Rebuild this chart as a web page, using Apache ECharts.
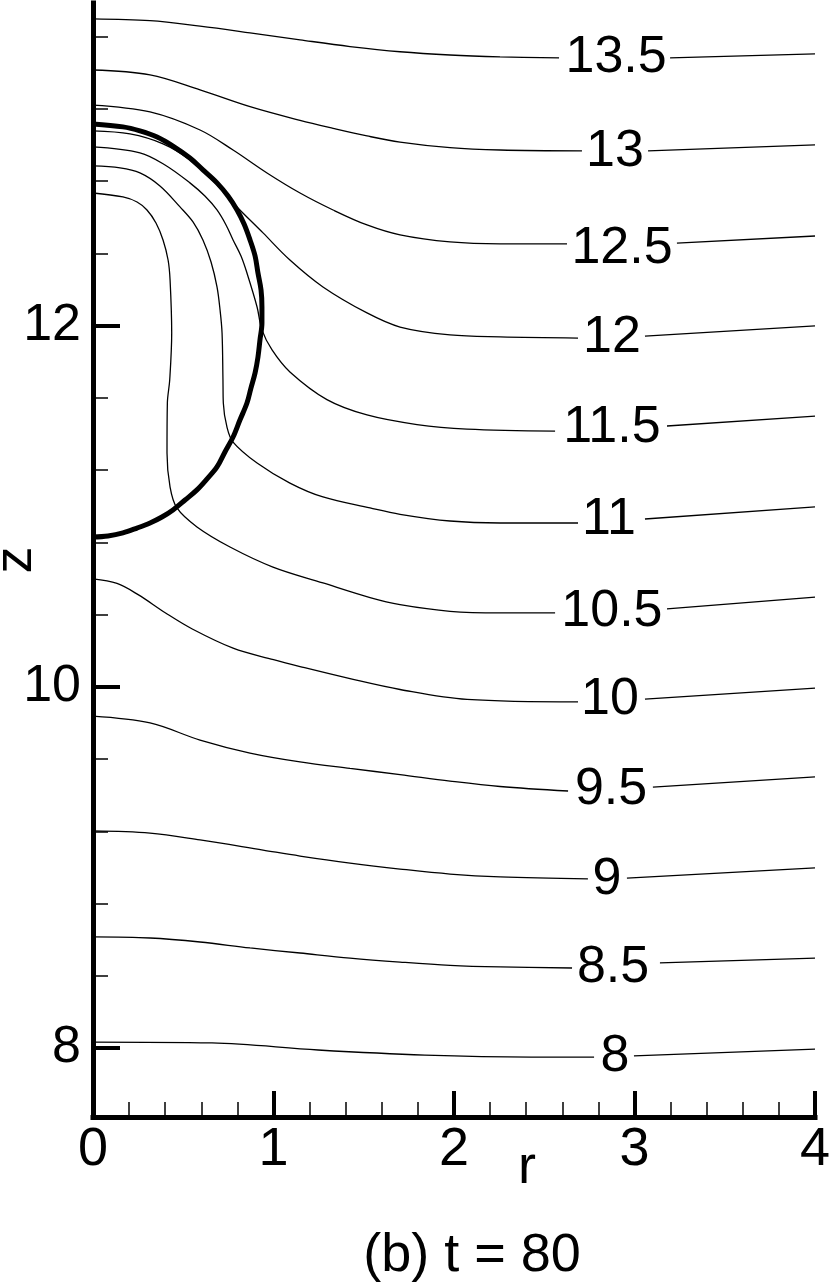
<!DOCTYPE html>
<html>
<head>
<meta charset="utf-8">
<script src="https://cdn.jsdelivr.net/npm/echarts@6/dist/echarts.min.js"></script>
<style>
  html, body { margin: 0; padding: 0; background: #fff; }
  #chart { width: 830px; height: 1282px; }
</style>
</head>
<body>
<div id="chart"></div>
<script>
  // contour levels, top to bottom
  const levels = ['13.5', '13', '12.5', '12', '11.5', '11', '10.5', '10', '9.5', '9', '8.5', '8']

  // [r, z] points of each contour, left of its label
  const leftParts = [
    [[0, 13.698], [0.316, 13.688], [0.593, 13.658], [0.870, 13.621], [1.147, 13.582], [1.424, 13.545], [1.701, 13.516], [1.978, 13.498], [2.255, 13.488], [2.582, 13.482]],
    [[0, 13.415], [0.316, 13.388], [0.593, 13.305], [0.870, 13.212], [1.147, 13.136], [1.330, 13.092], [1.518, 13.050], [1.701, 13.016], [1.978, 12.985], [2.255, 12.972], [2.709, 12.967]],
    [[0, 13.221], [0.316, 13.183], [0.593, 13.083], [0.776, 12.972], [0.964, 12.845], [1.147, 12.734], [1.330, 12.640], [1.518, 12.557], [1.701, 12.502], [1.978, 12.463], [2.255, 12.452], [2.626, 12.452]],
    [[0, 13.078], [0.205, 13.061], [0.388, 13.006], [0.537, 12.917], [0.676, 12.790], [0.776, 12.679], [0.942, 12.513], [1.091, 12.363], [1.274, 12.214], [1.518, 12.070], [1.701, 11.992], [1.978, 11.948], [2.255, 11.937], [2.687, 11.931]],
    [[0, 12.989], [0.260, 12.956], [0.399, 12.889], [0.537, 12.790], [0.620, 12.717], [0.687, 12.640], [0.737, 12.557], [0.776, 12.474], [0.820, 12.385], [0.853, 12.291], [0.909, 12.103], [0.936, 11.976], [0.992, 11.865], [1.091, 11.743], [1.296, 11.590], [1.518, 11.505], [1.795, 11.452], [2.072, 11.427], [2.560, 11.416]],
    [[0, 12.884], [0.150, 12.873], [0.260, 12.845], [0.371, 12.773], [0.482, 12.657], [0.554, 12.574], [0.609, 12.474], [0.654, 12.352], [0.687, 12.214], [0.704, 12.086], [0.715, 11.959], [0.720, 11.699], [0.722, 11.571], [0.742, 11.439], [0.776, 11.355], [0.909, 11.239], [1.091, 11.128], [1.274, 11.051], [1.535, 10.990], [1.701, 10.955], [1.978, 10.918], [2.255, 10.907], [2.687, 10.907]],
    [[0, 12.734], [0.166, 12.712], [0.244, 12.684], [0.299, 12.640], [0.349, 12.568], [0.388, 12.474], [0.416, 12.363], [0.427, 12.252], [0.436, 11.959], [0.425, 11.699], [0.412, 11.571], [0.410, 11.295], [0.427, 11.106], [0.465, 10.990], [0.576, 10.885], [0.759, 10.774], [0.997, 10.663], [1.274, 10.575], [1.535, 10.494], [1.701, 10.455], [1.978, 10.418], [2.255, 10.409], [2.560, 10.409]],
    [[0, 10.597], [0.133, 10.572], [0.250, 10.510], [0.400, 10.410], [0.550, 10.320], [0.776, 10.214], [1.000, 10.150], [1.147, 10.112], [1.424, 10.045], [1.701, 9.985], [2.072, 9.930], [2.687, 9.916]],
    [[0, 9.838], [0.316, 9.800], [0.593, 9.705], [0.870, 9.633], [1.147, 9.584], [1.424, 9.548], [1.701, 9.514], [1.978, 9.478], [2.255, 9.448], [2.632, 9.423]],
    [[0, 9.202], [0.316, 9.190], [0.593, 9.152], [0.942, 9.096], [1.147, 9.063], [1.424, 9.024], [1.701, 8.991], [1.978, 8.963], [2.255, 8.947], [2.742, 8.936]],
    [[0, 8.615], [0.316, 8.609], [0.593, 8.587], [0.870, 8.554], [1.147, 8.526], [1.424, 8.498], [1.701, 8.476], [1.978, 8.458], [2.255, 8.449], [2.654, 8.443]],
    [[0, 8.033], [0.659, 8.028], [1.247, 7.989], [1.839, 7.961], [2.427, 7.950], [2.776, 7.950]]
  ]

  // [r, z] points of each contour, right of its label
  const rightParts = [
    [[3.197, 13.482], [4, 13.504]],
    [[3.075, 12.967], [4, 13.000]],
    [[3.235, 12.457], [4, 12.496]],
    [[3.058, 11.942], [4, 11.998]],
    [[3.180, 11.444], [4, 11.499]],
    [[3.058, 10.929], [4, 10.996]],
    [[3.180, 10.431], [4, 10.497]],
    [[3.058, 9.932], [4, 9.993]],
    [[3.102, 9.445], [4, 9.501]],
    [[2.958, 8.941], [4, 8.997]],
    [[3.141, 8.471], [4, 8.498]],
    [[2.997, 7.956], [4, 7.994]]
  ]

  // where each level label sits [r, z]
  const labelPos = [
    [2.898, 13.482], [2.892, 12.961], [2.931, 12.424], [2.875, 11.931],
    [2.875, 11.433], [2.859, 10.924], [2.875, 10.414], [2.864, 9.927],
    [2.870, 9.429], [2.848, 8.930], [2.881, 8.443], [2.892, 7.950]
  ]

  // bubble interface [r, z]
  const bubble = [
    [0, 13.116], [0.166, 13.100], [0.260, 13.078], [0.355, 13.044], [0.443, 12.994], [0.537, 12.928],
    [0.609, 12.862], [0.687, 12.790], [0.748, 12.717], [0.798, 12.640], [0.837, 12.562], [0.870, 12.474],
    [0.898, 12.385], [0.914, 12.291], [0.931, 12.197], [0.936, 12.103], [0.936, 12.014], [0.925, 11.920],
    [0.914, 11.826], [0.898, 11.738], [0.875, 11.654], [0.853, 11.571], [0.814, 11.477], [0.776, 11.383],
    [0.731, 11.300], [0.687, 11.217], [0.632, 11.151], [0.576, 11.090], [0.510, 11.034], [0.443, 10.979],
    [0.382, 10.940], [0.316, 10.907], [0.244, 10.879], [0.166, 10.852], [0.083, 10.835], [0, 10.829]
  ]

  const zMajorTicks = [8, 10, 12]
  const zMinorTicks = [8.4, 8.8, 9.2, 9.6, 10.4, 10.8, 11.2, 11.6, 12.4, 12.8, 13.2, 13.6]

  const font = 'Liberation Sans, Arial, Helvetica, sans-serif'
  const chart = echarts.init(document.getElementById('chart'))

  const series = []
  levels.forEach((lv, i) => {
    [leftParts[i], rightParts[i]].forEach(part => {
      series.push({
        type: 'line',
        data: part,
        smooth: 0.35,
        symbol: 'none',
        silent: true,
        lineStyle: { color: '#000', width: 1.3 }
      })
    })
  })
  series.push({
    type: 'line',
    data: bubble,
    smooth: 0.35,
    symbol: 'none',
    silent: true,
    lineStyle: { color: '#000', width: 5 }
  })
  series.push({
    type: 'scatter',
    symbolSize: 0,
    silent: true,
    itemStyle: { opacity: 1, color: '#000' },
    data: labelPos.map((p, i) => [p[0], p[1], levels[i]]),
    label: {
      show: true,
      position: 'inside',
      formatter: p => p.data[2],
      fontSize: 52,
      fontFamily: font,
      color: '#000',
      textBorderWidth: 0
    }
  })

  chart.setOption({
    animation: false,
    grid: { left: 93, right: 15, top: 3, bottom: 165, outerBoundsMode: 'none' },
    xAxis: {
      type: 'value',
      min: 0,
      max: 4,
      interval: 1,
      axisLine: { lineStyle: { color: '#000', width: 5, cap: 'square' } },
      axisTick: { inside: true, length: 26, lineStyle: { color: '#000', width: 4 } },
      minorTick: { show: true, splitNumber: 5, length: 15, lineStyle: { color: '#000', width: 1.5 } },
      splitLine: { show: false },
      minorSplitLine: { show: false },
      axisLabel: { fontSize: 54, fontFamily: font, color: '#000', margin: 6 },
      name: 'r',
      nameLocation: 'middle',
      nameGap: 24,
      nameMoveOverlap: false,
      nameTextStyle: { fontSize: 54, fontFamily: font, color: '#000', padding: [0, 0, 0, 146] }
    },
    yAxis: [{
      type: 'value',
      position: 'left',
      min: 7.618,
      max: 13.786,
      axisLine: { lineStyle: { color: '#000', width: 5, cap: 'square' } },
      axisTick: { inside: true, length: 27, customValues: zMajorTicks, lineStyle: { color: '#000', width: 4 } },
      axisLabel: { customValues: zMajorTicks, fontSize: 52, fontFamily: font, color: '#000', margin: 12 },
      splitLine: { show: false },
      name: 'z',
      nameLocation: 'middle',
      nameRotate: 90,
      nameGap: 50,
      nameMoveOverlap: false,
      nameTextStyle: { fontSize: 54, fontFamily: font, color: '#000' }
    }, {
      type: 'value',
      position: 'left',
      min: 7.618,
      max: 13.786,
      axisLine: { show: false },
      axisTick: { inside: true, length: 15, customValues: zMinorTicks, lineStyle: { color: '#000', width: 1.5 } },
      axisLabel: { show: false },
      splitLine: { show: false }
    }],
    graphic: [{
      type: 'text',
      x: 472,
      y: 1256,
      style: {
        text: '(b) t = 80',
        fontSize: 54,
        fontFamily: font,
        fill: '#000',
        textAlign: 'center',
        textVerticalAlign: 'middle'
      }
    }],
    series: series
  })
</script>
</body>
</html>
